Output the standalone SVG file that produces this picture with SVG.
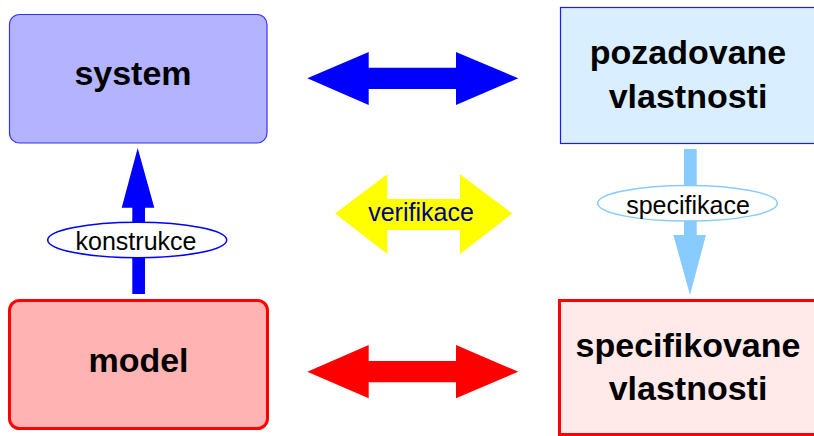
<svg xmlns="http://www.w3.org/2000/svg" width="814" height="436" viewBox="0 0 814 436">
<style>
.big{font-family:"Liberation Sans",Arial,sans-serif;font-weight:bold;font-size:34px;fill:#000;text-anchor:middle}
.lbl{font-family:"Liberation Sans",Arial,sans-serif;font-size:25px;fill:#000;text-anchor:middle}
</style>
<rect width="814" height="436" fill="#fff"/>
<g id="connectors">
<polygon id="a-blue" points="307.3,78.3 368.7,52 368.7,67.7 456,67.7 456,52 518.3,78.3 456,105 456,89 368.7,89 368.7,105" fill="#0000ff"/>
<polygon id="a-red" points="307.3,371.7 368.7,345 368.7,361 456,361 456,345 518.3,371.7 456,398.3 456,382.3 368.7,382.3 368.7,398.3" fill="#ff0000"/>
<g id="a-verif">
<polygon points="335,213.5 387.3,174.3 387.3,199 460,199 460,174.3 512.3,213.5 460,254 460,230 387.3,230 387.3,254" fill="#ffff00"/>
<text x="421" y="221" class="lbl" style="fill:#000080">verifikace</text>
</g>
<g id="a-konstr">
<polygon points="132.3,294 132.3,207.7 121.7,207.7 137.7,148 154.3,207.7 145,207.7 145,294" fill="#0000ff"/>
<ellipse cx="137.2" cy="240" rx="89.5" ry="17.7" fill="#fff" stroke="#0000ff" stroke-width="1.5"/>
<text x="136" y="250" class="lbl">konstrukce</text>
</g>
<g id="a-spec">
<polygon points="684,149 696.7,149 696.7,235 706,235 690,295 673.3,235 684,235" fill="#88ccff"/>
<ellipse cx="687.5" cy="203.3" rx="89.8" ry="17.8" fill="#fff" stroke="#88ccff" stroke-width="1.5"/>
<text x="688" y="214" class="lbl">specifikace</text>
</g>
</g>
<g id="system">
<rect x="9.5" y="14.5" width="257.5" height="128.5" rx="10" fill="#b3b3ff" stroke="#3333ff" stroke-width="1.2"/>
<text x="133" y="85" class="big">system</text>
</g>
<g id="pozadovane">
<rect x="560.5" y="7.5" width="260" height="136" fill="#d9efff" stroke="#1a1aff" stroke-width="1.2"/>
<text x="688" y="64" class="big">pozadovane</text>
<text x="688" y="108" class="big">vlastnosti</text>
</g>
<g id="model">
<rect x="9.5" y="300.5" width="258" height="128" rx="10" fill="#ffb3b3" stroke="#ff0000" stroke-width="3"/>
<text x="138.5" y="371.7" class="big">model</text>
</g>
<g id="specifikovane">
<rect x="559.5" y="300.5" width="262" height="134" fill="#ffe9e9" stroke="#ff0000" stroke-width="3"/>
<text x="688" y="357" class="big">specifikovane</text>
<text x="688" y="400" class="big">vlastnosti</text>
</g>
</svg>
